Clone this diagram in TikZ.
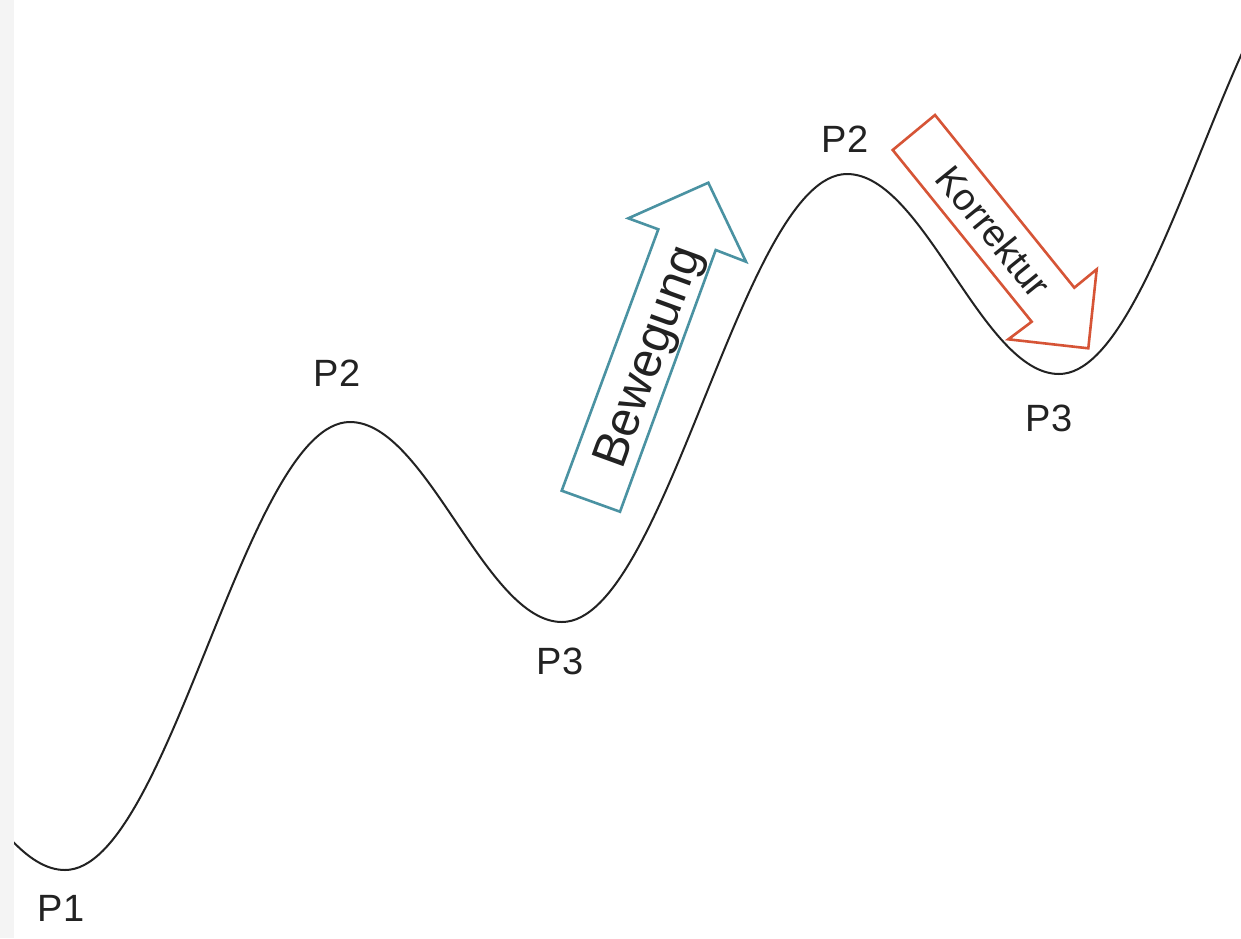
\documentclass[tikz,border=0pt]{standalone}
\usepackage{fontspec}
\setmainfont{Liberation Sans}
\definecolor{movecol}{RGB}{74,146,162}
\definecolor{corrcol}{RGB}{214,84,54}
\definecolor{inkcol}{RGB}{34,34,34}
\definecolor{stripcol}{RGB}{244,244,244}
\tikzset{
  wave/.style={draw=inkcol, line width=1pt},
  ptlabel/.style={inner sep=0pt, text=inkcol, font=\fontsize{19}{19}\selectfont},
  movearrow/.style={draw=movecol, line width=1.3pt, line join=miter},
  corrarrow/.style={draw=corrcol, line width=1.3pt, line join=miter},
  arrowtext/.style={inner sep=0pt, text=inkcol},
}
\begin{document}
\begin{tikzpicture}[x=0.5pt, y=-0.5pt]
  % canvas
  \useasboundingbox (0,0) rectangle (1241,938);
  \fill[white] (0,0) rectangle (1241,938);
  \fill[stripcol] (0,0) rectangle (14,938);

  % turning points of the price wave
  \coordinate (h0)  at (-147,670);
  \coordinate (l1)  at (65,870);
  \coordinate (h1)  at (350,422);
  \coordinate (l2)  at (562,622);
  \coordinate (h2)  at (847,174);
  \coordinate (l3)  at (1059,374);
  \coordinate (h3)  at (1344,-74);

  % the wave: rising legs span 285, falling legs 212
  \begin{scope}
    \clip (14,0) rectangle (1241,938);
    \draw[wave] (h0)
      .. controls +(77,0) and +(-77,0) .. (l1)
      .. controls +(104,0) and +(-104,0) .. (h1)
      .. controls +(77,0) and +(-77,0) .. (l2)
      .. controls +(104,0) and +(-104,0) .. (h2)
      .. controls +(77,0) and +(-77,0) .. (l3)
      .. controls +(104,0) and +(-104,0) .. (h3);
  \end{scope}

  % point labels
  \node[ptlabel] (p1)  at (61,908)   {P1};
  \node[ptlabel] (p2a) at (337,373)  {P2};
  \node[ptlabel] (p3a) at (560,661)  {P3};
  \node[ptlabel] (p2b) at (845,139)  {P2};
  \node[ptlabel] (p3b) at (1049,418) {P3};

  % movement arrow
  \draw[movearrow] (561.7,490.7) -- (658.3,229.3) -- (628.3,218.3)
    -- (708.3,182.7) -- (746,261.7) -- (715.7,250) -- (620,511.7) -- cycle;
  \node[arrowtext, rotate=70, font=\fontsize{24.5}{24.5}\selectfont]
    (move) at (651,358) {Bewegung};

  % correction arrow
  \draw[corrarrow] (892.7,150) -- (935,115) -- (1074.3,287.7)
    -- (1096.7,269.3) -- (1088.3,348.3) -- (1008.3,339.3)
    -- (1031.7,321.7) -- cycle;
  \node[arrowtext, rotate=-51, font=\fontsize{19}{19}\selectfont]
    (corr) at (993.7,231.3) {Korrektur};
\end{tikzpicture}
\end{document}
